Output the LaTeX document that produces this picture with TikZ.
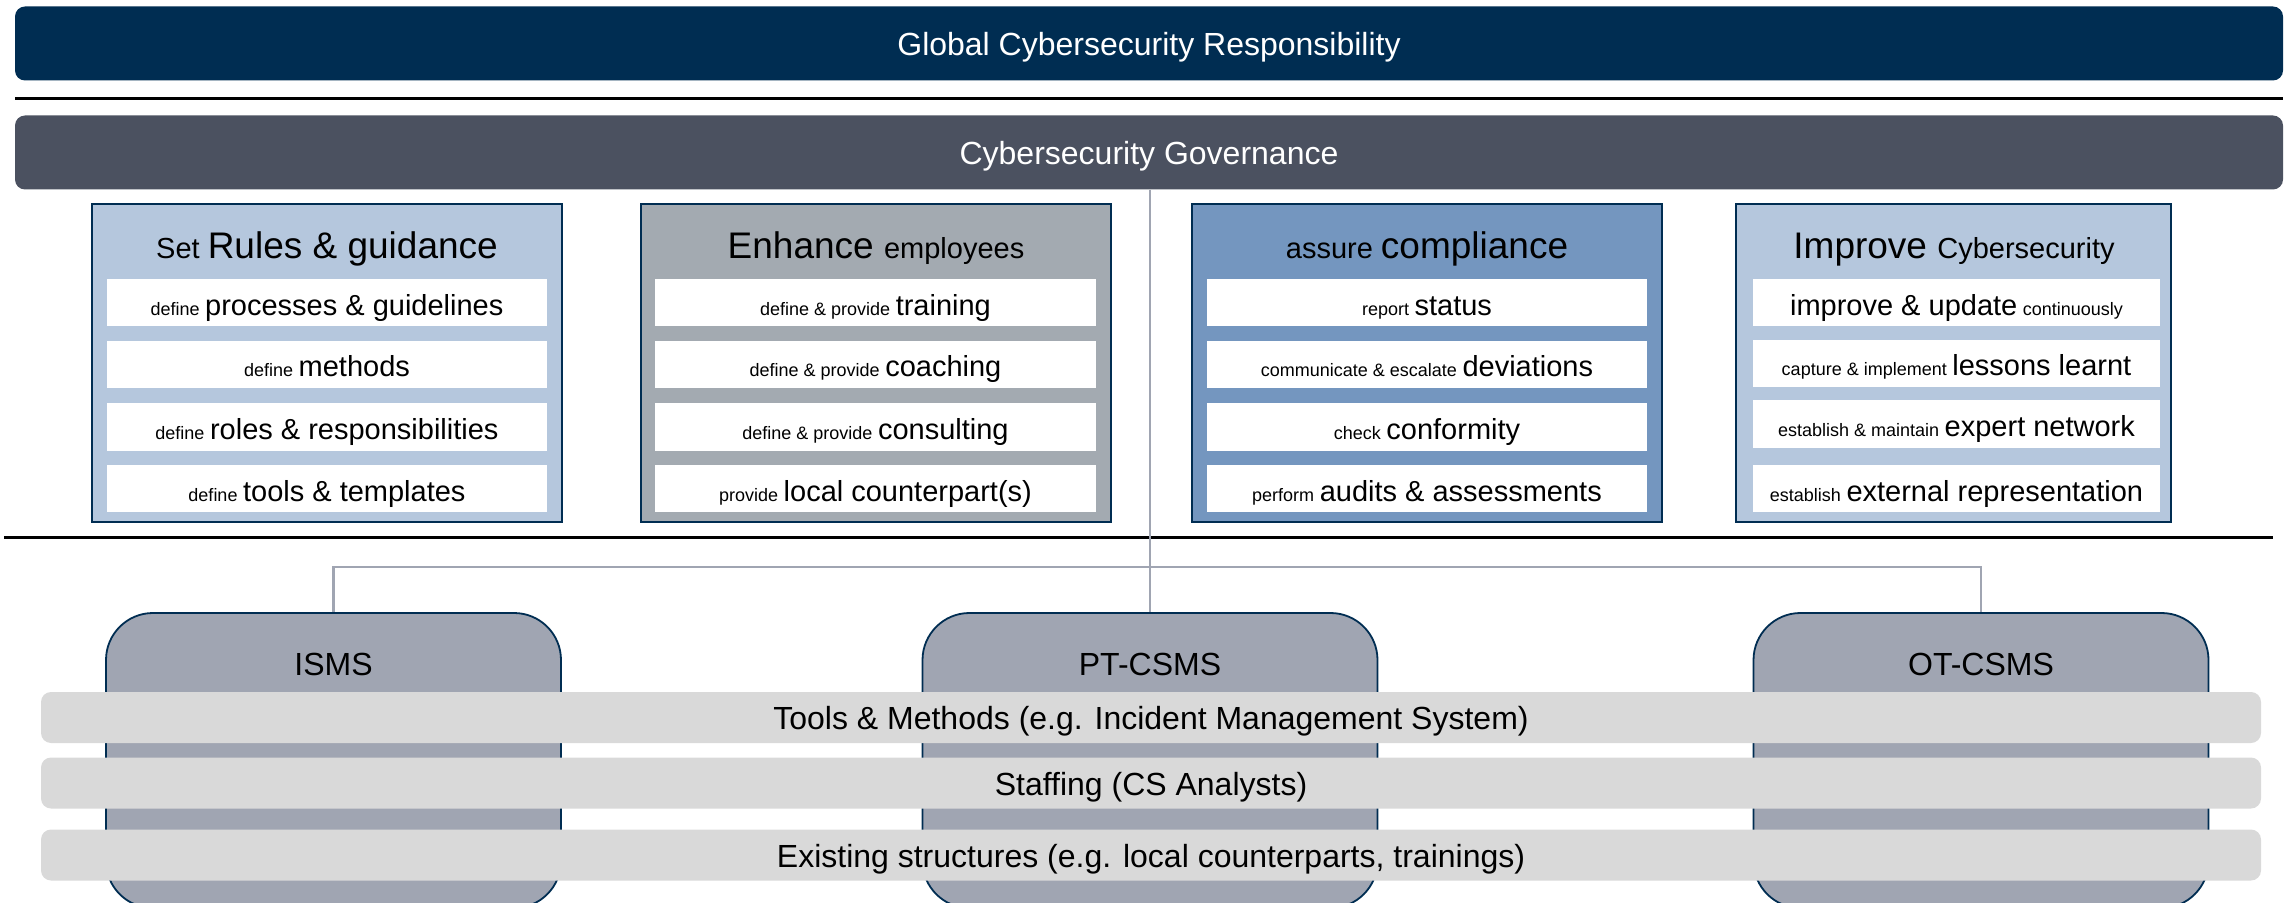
\documentclass[tikz,border=0pt]{standalone}
\usepackage{fontspec}
\setmainfont{Liberation Sans}
\usepackage{tikz}
\usetikzlibrary{positioning}

\definecolor{navy}{HTML}{002D52}
\definecolor{slate}{HTML}{4B5160}
\definecolor{paleblue}{HTML}{B5C7DD}
\definecolor{midgray}{HTML}{A3AAB1}
\definecolor{steel}{HTML}{7496BF}
\definecolor{msgray}{HTML}{A0A5B2}
\definecolor{bargray}{HTML}{D9D9D9}
\newcommand{\sz}[2]{{\fontsize{#1}{#1}\selectfont #2}}

\begin{document}
\begin{tikzpicture}[x=0.5pt,y=-0.5pt,
    bannerbox/.style={rounded corners=5pt,minimum width=1134pt,minimum height=37pt,text height=12.2pt,text depth=0pt,text=white,font=\fontsize{16}{16}\selectfont},
    taskbox/.style={draw=navy,line width=0.8pt,minimum height=159pt,inner sep=0pt},
    itembox/.style={fill=white,minimum height=23.5pt,text height=12.5pt,text depth=0pt,inner sep=0pt},
    msbox/.style={draw=navy,line width=0.9pt,fill=msgray,rounded corners=23.5pt,minimum width=227.5pt,minimum height=147.5pt},
    layerbar/.style={fill=bargray,rounded corners=5pt,minimum width=1110pt,minimum height=25.5pt,text height=12.2pt,text depth=0pt,font=\fontsize{16}{16}\selectfont},
    conn/.style={draw=msgray,line width=1.2pt},
    divider/.style={line width=1.5pt}]
      \path[use as bounding box] (0,0) rectangle (2285,903);
      \clip (0,0) rectangle (2285,903);

      % top level
      \node[bannerbox,fill=navy] (global) at (1149,43.5) {Global Cybersecurity Responsibility};
      \draw[divider] (15,98.5) -- (2283,98.5);
      \node[bannerbox,fill=slate] (gov) at (1149,152.5) {Cybersecurity Governance};

      % governance tasks
      \node[taskbox,fill=paleblue,minimum width=235pt] (rules) at (327,363) {};
      \node[anchor=base] (rules title) at (327,259) {\sz{14.5}{Set }\sz{18.5}{Rules \& guidance}};
      \node[itembox,minimum width=220pt] (rules 1) at (327,303) {\sz{9}{define} \sz{14.5}{processes \& guidelines}};
      \node[itembox,minimum width=220pt] (rules 2) at (327,364.5) {\sz{9}{define} \sz{14.5}{methods}};
      \node[itembox,minimum width=220pt] (rules 3) at (327,427) {\sz{9}{define} \sz{14.5}{roles \& responsibilities}};
      \node[itembox,minimum width=220pt] (rules 4) at (327,488.5) {\sz{9}{define} \sz{14.5}{tools \& templates}};

      \node[taskbox,fill=midgray,minimum width=235pt] (employees) at (876,363) {};
      \node[anchor=base] (employees title) at (876,259) {\sz{18.5}{Enhance }\sz{14.5}{employees}};
      \node[itembox,minimum width=220.5pt] (employees 1) at (875.5,303) {\sz{9}{define \& provide} \sz{14.5}{training}};
      \node[itembox,minimum width=220.5pt] (employees 2) at (875.5,364.5) {\sz{9}{define \& provide} \sz{14.5}{coaching}};
      \node[itembox,minimum width=220.5pt] (employees 3) at (875.5,427) {\sz{9}{define \& provide} \sz{14.5}{consulting}};
      \node[itembox,minimum width=220.5pt] (employees 4) at (875.5,488.5) {\sz{9}{provide} \sz{14.5}{local counterpart(s)}};

      \node[taskbox,fill=steel,minimum width=235pt] (compliance) at (1427,363) {};
      \node[anchor=base] (compliance title) at (1427,259) {\sz{14.5}{assure }\sz{18.5}{compliance}};
      \node[itembox,minimum width=220pt] (compliance 1) at (1427,303) {\sz{9}{report} \sz{14.5}{status}};
      \node[itembox,minimum width=220pt] (compliance 2) at (1427,364.5) {\sz{9}{communicate \& escalate} \sz{14.5}{deviations}};
      \node[itembox,minimum width=220pt] (compliance 3) at (1427,427) {\sz{9}{check} \sz{14.5}{conformity}};
      \node[itembox,minimum width=220pt] (compliance 4) at (1427,488.5) {\sz{9}{perform} \sz{14.5}{audits \& assessments}};

      \node[taskbox,fill=paleblue,minimum width=217.5pt] (improve) at (1953.5,363) {};
      \node[anchor=base] (improve title) at (1954,259) {\sz{18.5}{Improve }\sz{14.5}{Cybersecurity}};
      \node[itembox,minimum width=203.5pt] (improve 1) at (1956.5,303) {\sz{14.5}{improve \& update} \sz{9}{continuously}};
      \node[itembox,minimum width=203.5pt] (improve 2) at (1956.5,363.5) {\sz{9}{capture \& implement} \sz{14.5}{lessons learnt}};
      \node[itembox,minimum width=203.5pt] (improve 3) at (1956.5,424) {\sz{9}{establish \& maintain} \sz{14.5}{expert network}};
      \node[itembox,minimum width=203.5pt] (improve 4) at (1956.5,488.5) {\sz{9}{establish} \sz{14.5}{external representation}};

      \draw[divider] (4,537) -- (2273,537);

      % management systems
      \coordinate (bus) at (1150,567);
      \node[msbox] (isms) at (333.5,760.5) {};
      \node[msbox] (pt) at (1150,760.5) {};
      \node[msbox] (ot) at (1981,760.5) {};
      \draw[conn] (gov.south -| pt.north) -- (pt.north);
      \draw[conn] (isms.north) |- (bus) -| (ot.north);
      \node[font=\fontsize{16}{16}\selectfont] (isms label) at (333.5,664) {ISMS};
      \node[font=\fontsize{16}{16}\selectfont] (pt label) at (1150,664) {PT-CSMS};
      \node[font=\fontsize{16}{16}\selectfont] (ot label) at (1981,664) {OT-CSMS};

      % shared layers
      \node[layerbar] (tools) at (1151,717.5) {Tools \& Methods (e.g. Incident Management System)};
      \node[layerbar] (staffing) at (1151,783) {Staffing (CS Analysts)};
      \node[layerbar] (existing) at (1151,855) {Existing structures (e.g. local counterparts, trainings)};
    \end{tikzpicture}
\end{document}
